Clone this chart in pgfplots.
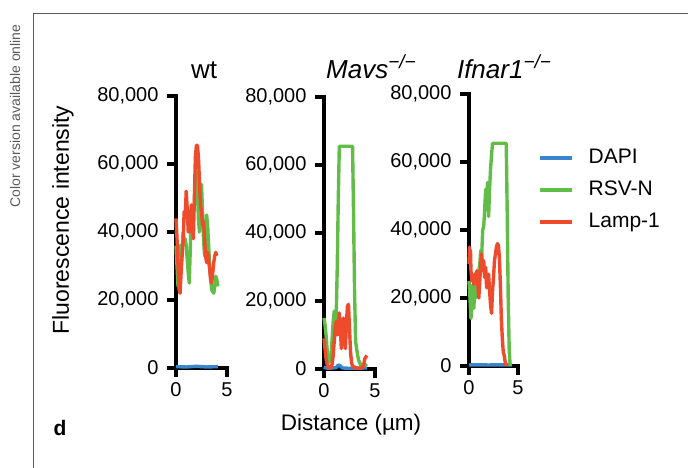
\documentclass[border=0pt]{standalone}
\usepackage{fontspec}
\setmainfont{Liberation Sans}
\usepackage{pgfplots}
\pgfplotsset{compat=1.18}

\definecolor{dapi}{RGB}{58,134,204}
\definecolor{rsvn}{RGB}{98,189,72}
\definecolor{lamp}{RGB}{238,74,44}
\definecolor{framegray}{RGB}{90,90,90}

\tikzset{dl/.style={line width=3.4pt, line join=round}}

\pgfplotsset{
  panel/.style={
    scale only axis, width=51pt, height=272pt,
    anchor=south west,
    xmin=0, xmax=5, ymin=0, ymax=80000,
    axis lines=left,
    axis line style={-, line width=3.4pt, line cap=rect},
    tick style={black, line width=3.4pt},
    major tick length=9pt,
    tick align=outside,
    xtick={0,5}, ytick={0,20000,40000,60000,80000},
    scaled y ticks=false,
    yticklabel style={/pgf/number format/1000 sep={,}, /pgf/number format/assume math mode=true, xshift=-5pt},
    xticklabel style={/pgf/number format/assume math mode=true, yshift=-2pt},
    tick label style={font=\fontsize{20}{24}\selectfont},
    clip=false,
  },
}

\begin{document}
\begin{tikzpicture}[x=1pt,y=1pt]
\path[use as bounding box] (0,0) rectangle (688,468);
% frame
\draw[framegray, line width=1pt] (33,0) -- (33,454) -- (688,454);
\node[rotate=90, font=\fontsize{14}{16}\selectfont, text=framegray] at (15,352) {Color version available online};

% wt
\begin{axis}[panel, at={(176pt,100pt)}]
\addplot[dapi, dl] coordinates {(0,400) (1,300) (2,500) (3,300) (4.1,400)};
\addplot[rsvn, dl] coordinates {
(0,36000) (0.1,30000) (0.2,24000) (0.3,35000) (0.4,36000) (0.5,33000)
(0.6,35000) (0.7,40000) (0.8,37000) (0.9,38000) (1.0,36000) (1.1,32000)
(1.2,28000) (1.3,25000) (1.4,35000) (1.5,46000) (1.6,47000) (1.7,45000)
(1.8,48000) (1.9,55000) (2.0,58000) (2.1,52000) (2.2,44000) (2.3,40000)
(2.4,48000) (2.5,54000) (2.6,46000) (2.7,38000) (2.8,33000) (2.9,34000)
(3.0,45000) (3.1,42000) (3.2,36000) (3.3,30000) (3.4,26000) (3.5,23000)
(3.6,22500) (3.7,22000) (3.8,24000) (3.9,27000) (4.0,26000) (4.1,24000)};
\addplot[lamp, dl] coordinates {
(0,44000) (0.1,38000) (0.2,30000) (0.3,23000) (0.4,22000) (0.5,28000)
(0.6,33000) (0.7,37000) (0.8,46000) (0.9,44000) (1.0,52000) (1.1,47000)
(1.2,40000) (1.3,42000) (1.4,40000) (1.5,48000) (1.6,45000) (1.7,38000)
(1.8,50000) (1.9,62000) (2.0,65500) (2.1,65500) (2.2,62000) (2.3,55000)
(2.4,48000) (2.5,46000) (2.6,42000) (2.7,43000) (2.8,38000) (2.9,33000)
(3.0,31000) (3.1,34000) (3.2,32000) (3.3,29000) (3.4,26000) (3.5,25000)
(3.6,28000) (3.7,31000) (3.8,33000) (3.9,34000) (4.0,33000)};
\end{axis}

% Mavs
\begin{axis}[panel, at={(324pt,99pt)}]
\addplot[dapi, dl] coordinates {(0,600) (0.2,300) (0.5,200) (1.2,400) (1.4,1200) (1.6,900) (1.8,300) (2.5,200) (4.2,300)};
\addplot[rsvn, dl] coordinates {
(0,15000) (0.1,13000) (0.2,10000) (0.3,6000) (0.4,3000) (0.5,2000)
(0.6,2500) (0.7,4000) (0.8,9000) (0.9,14000) (1.0,17000) (1.1,13000)
(1.2,16000) (1.3,30000) (1.4,50000) (1.5,65500) (2.8,65500) (2.9,45000)
(3.0,22000) (3.1,8000) (3.2,6000) (3.3,4000) (3.4,2500) (3.5,2000)
(3.6,800) (3.7,500) (3.8,600) (3.9,800) (4.0,1000) (4.1,1200) (4.2,1500)};
\addplot[lamp, dl] coordinates {
(0,9000) (0.1,6000) (0.2,3000) (0.3,1500) (0.4,800) (0.5,300)
(0.6,200) (0.7,500) (0.8,1500) (0.9,4000) (1.0,8000) (1.1,12000)
(1.2,14000) (1.3,10000) (1.4,13000) (1.5,16500) (1.6,12000) (1.7,6000)
(1.8,10000) (1.9,15000) (2.0,9000) (2.1,6000) (2.2,14000) (2.3,18500)
(2.4,19000) (2.5,12000) (2.6,5000) (2.7,2000) (2.8,800) (2.9,400)
(3.0,600) (3.2,300) (3.4,200) (3.6,300) (3.8,500) (3.9,1500)
(4.0,3000) (4.1,3500) (4.2,4000)};
\end{axis}

% Ifnar1
\begin{axis}[panel, at={(469pt,102pt)}, width=49pt,
  legend style={draw=none, fill=none, at={(axis description cs:1.41,0.647)}, anchor=west,
    font=\fontsize{21}{25}\selectfont, row sep=11pt, inner sep=0pt,
    nodes={inner sep=0pt, text height=16pt, text depth=5pt},
    /tikz/every odd column/.append style={column sep=15pt}},
  legend cell align=left,
  legend image code/.code={\draw[#1] (0pt,0pt) -- (32pt,0pt);}]
\addplot[dapi, dl] coordinates {(0,300) (1,350) (2,300) (3,350) (4.4,300)};
\addplot[rsvn, dl] coordinates {
(0,25000) (0.1,20000) (0.2,14000) (0.3,18000) (0.4,24000) (0.5,17000)
(0.6,26000) (0.7,20000) (0.8,27000) (0.9,23000) (1.0,28000) (1.1,30000)
(1.2,34000) (1.3,33000) (1.4,40000) (1.5,41000) (1.6,46000) (1.7,52000)
(1.8,50000) (1.9,54000) (2.0,44000) (2.1,52000) (2.2,58000) (2.3,62000)
(2.4,65500) (3.8,65500) (3.9,45000) (4.0,20000) (4.1,5000) (4.2,0)};
\addplot[lamp, dl] coordinates {
(0,30000) (0.05,35000) (0.1,31000) (0.15,34000) (0.2,28000) (0.3,25000)
(0.4,26000) (0.5,24000) (0.6,27000) (0.7,26000) (0.8,28000) (0.9,24000)
(1.0,20000) (1.1,25000) (1.2,30000) (1.3,33000) (1.4,28000) (1.5,31000)
(1.6,26000) (1.7,29000) (1.8,23000) (1.9,25000) (2.0,27000) (2.1,22000)
(2.2,18000) (2.3,15500) (2.4,22000) (2.5,26000) (2.6,31000) (2.7,33000)
(2.8,35000) (2.9,36000) (3.0,35500) (3.1,32000) (3.2,24000) (3.3,14000)
(3.4,8000) (3.5,4000) (3.6,3000) (3.7,1000) (3.8,0)};
\legend{DAPI, RSV-N, Lamp-1}
\end{axis}

% titles and labels
\node[anchor=base, font=\fontsize{26}{30}\selectfont] at (204,389) {wt};
\node[anchor=base, font=\fontsize{26}{30}\selectfont] at (371,389)
  {\itshape Mavs\raisebox{10pt}{\fontsize{19}{19}\selectfont −/−}};
\node[anchor=base, font=\fontsize{26}{30}\selectfont] at (504,389)
  {\itshape Ifnar1\raisebox{10pt}{\fontsize{19}{19}\selectfont −/−}};
\node[rotate=90, font=\fontsize{23}{27}\selectfont] at (63,248) {Fluorescence intensity};
\node[font=\fontsize{22.5}{27}\selectfont] at (351,43) {Distance (µm)};
\node[font=\bfseries\fontsize{21}{25}\selectfont] at (60,40) {d};
\end{tikzpicture}
\end{document}
